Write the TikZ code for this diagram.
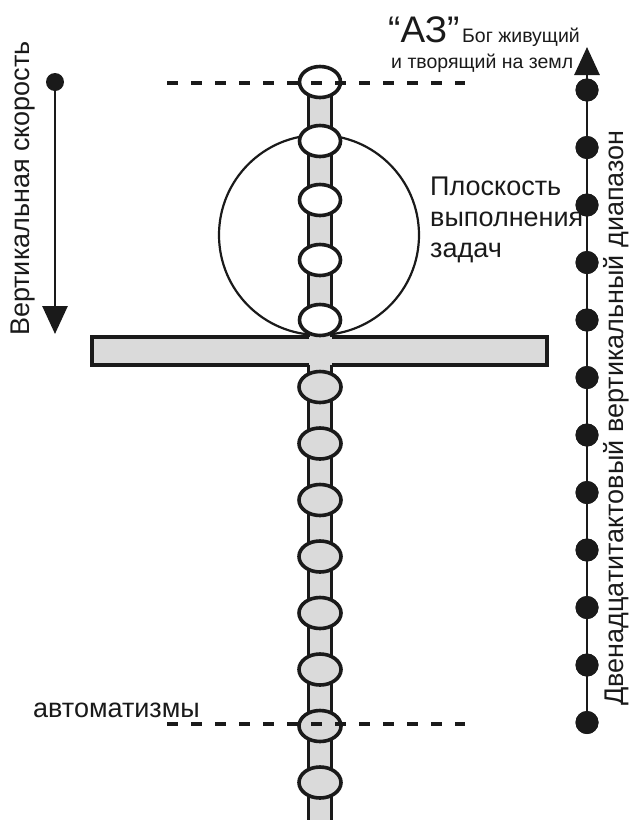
\documentclass[tikz,border=0pt]{standalone}
\usepackage{fontspec}
\setmainfont{Liberation Sans}
\usetikzlibrary{arrows.meta}
\definecolor{spinegray}{HTML}{DADADA}
\definecolor{ink}{HTML}{1A1A1A}
\tikzset{
  heavy/.style={draw=ink,line width=3.6pt},
  upperell/.style={heavy,fill=white},
  lowerell/.style={heavy,fill=spinegray},
  bead/.style={circle,fill=ink,draw=none,minimum size=23pt,inner sep=0pt},
  smalldot/.style={circle,fill=ink,draw=none,minimum size=18pt,inner sep=0pt},
  levelline/.style={draw=ink,line width=4.5pt,dash pattern=on 11pt off 13pt},
  label/.style={text=ink,inner sep=0pt,font=\fontsize{27}{31}\selectfont},
  bigarrow/.style={draw=ink,line width=2.8pt,-{Triangle[width=25pt,length=28pt]}}
}
\begin{document}
\begin{tikzpicture}[x=1pt,y=-1pt]
\useasboundingbox (0,0) rectangle (633,820);
% circle (task plane)
\draw[ink,line width=2.2pt] (319,235) circle (100pt);
% bar
\draw[heavy,fill=spinegray] (92,337) rectangle (547,365);
% spine
\fill[spinegray] (308.5,82) rectangle (331.5,820);
\fill[spinegray] (310.5,334) rectangle (329.5,368);
\draw[heavy] (308.5,82) -- (308.5,337) (331.5,82) -- (331.5,337);
\draw[heavy] (308.5,365) -- (308.5,822) (331.5,365) -- (331.5,822);
% upper beads
\foreach \y [count=\i] in {82,141,200,260,320}{
  \draw[upperell] (320,\y) ellipse (20.5pt and 15.5pt);
  \coordinate (u\i) at (320,\y);
}
% lower beads
\foreach \y [count=\i] in {387,443.5,500,556.5,613,669.5,726,782.5}{
  \draw[lowerell] (320,\y) ellipse (21pt and 15.5pt);
  \coordinate (l\i) at (320,\y);
}
% level lines
\coordinate (topL) at (167,83);
\coordinate (topR) at (465,83);
\coordinate (botL) at (167,724);
\coordinate (botR) at (465,724);
\draw[levelline] (topL) -- (topR);
\draw[levelline] (botL) -- (botR);
% left arrow: vertical speed
\node[smalldot] (vs) at (55,82) {};
\coordinate (vsEnd) at (55,334);
\draw[bigarrow] (vs.center) -- (vsEnd);
\node[label,rotate=90] (vslabel) at (23,188.5) {Вертикальная скорость};
% right column: twelve dots
\foreach \k in {1,...,12}{
  \node[bead] (d\k) at (587,{90+57.5*(\k-1)}) {};
}
\coordinate (rtop) at (587,47);
\draw[bigarrow] (d12.center) -- (rtop);
\foreach \k in {1,...,12}{ \node[bead] at (d\k) {}; }
\node[label,rotate=90] (rlabel) at (616,418) {Двенадцатитактовый вертикальный диапазон};
% top labels
\node[text=ink,inner sep=0pt,anchor=base west,font=\fontsize{37}{40}\selectfont] (az) at (388,42) {“АЗ”};
\node[text=ink,inner sep=0pt,anchor=base west,font=\fontsize{19.5}{22}\selectfont] (god1) at (462,42) {Бог живущий};
\node[text=ink,inner sep=0pt,anchor=base west,font=\fontsize{19.5}{22}\selectfont] (god2) at (391,68) {и творящий на земл};
% task plane label
\node[label,anchor=base west] (p1) at (430,195) {Плоскость};
\node[label,anchor=base west] (p2) at (430,226) {выполнения};
\node[label,anchor=base west] (p3) at (430,257) {задач};
% automatisms
\node[label,anchor=base west] (auto) at (33,717) {автоматизмы};
\end{tikzpicture}
\end{document}
